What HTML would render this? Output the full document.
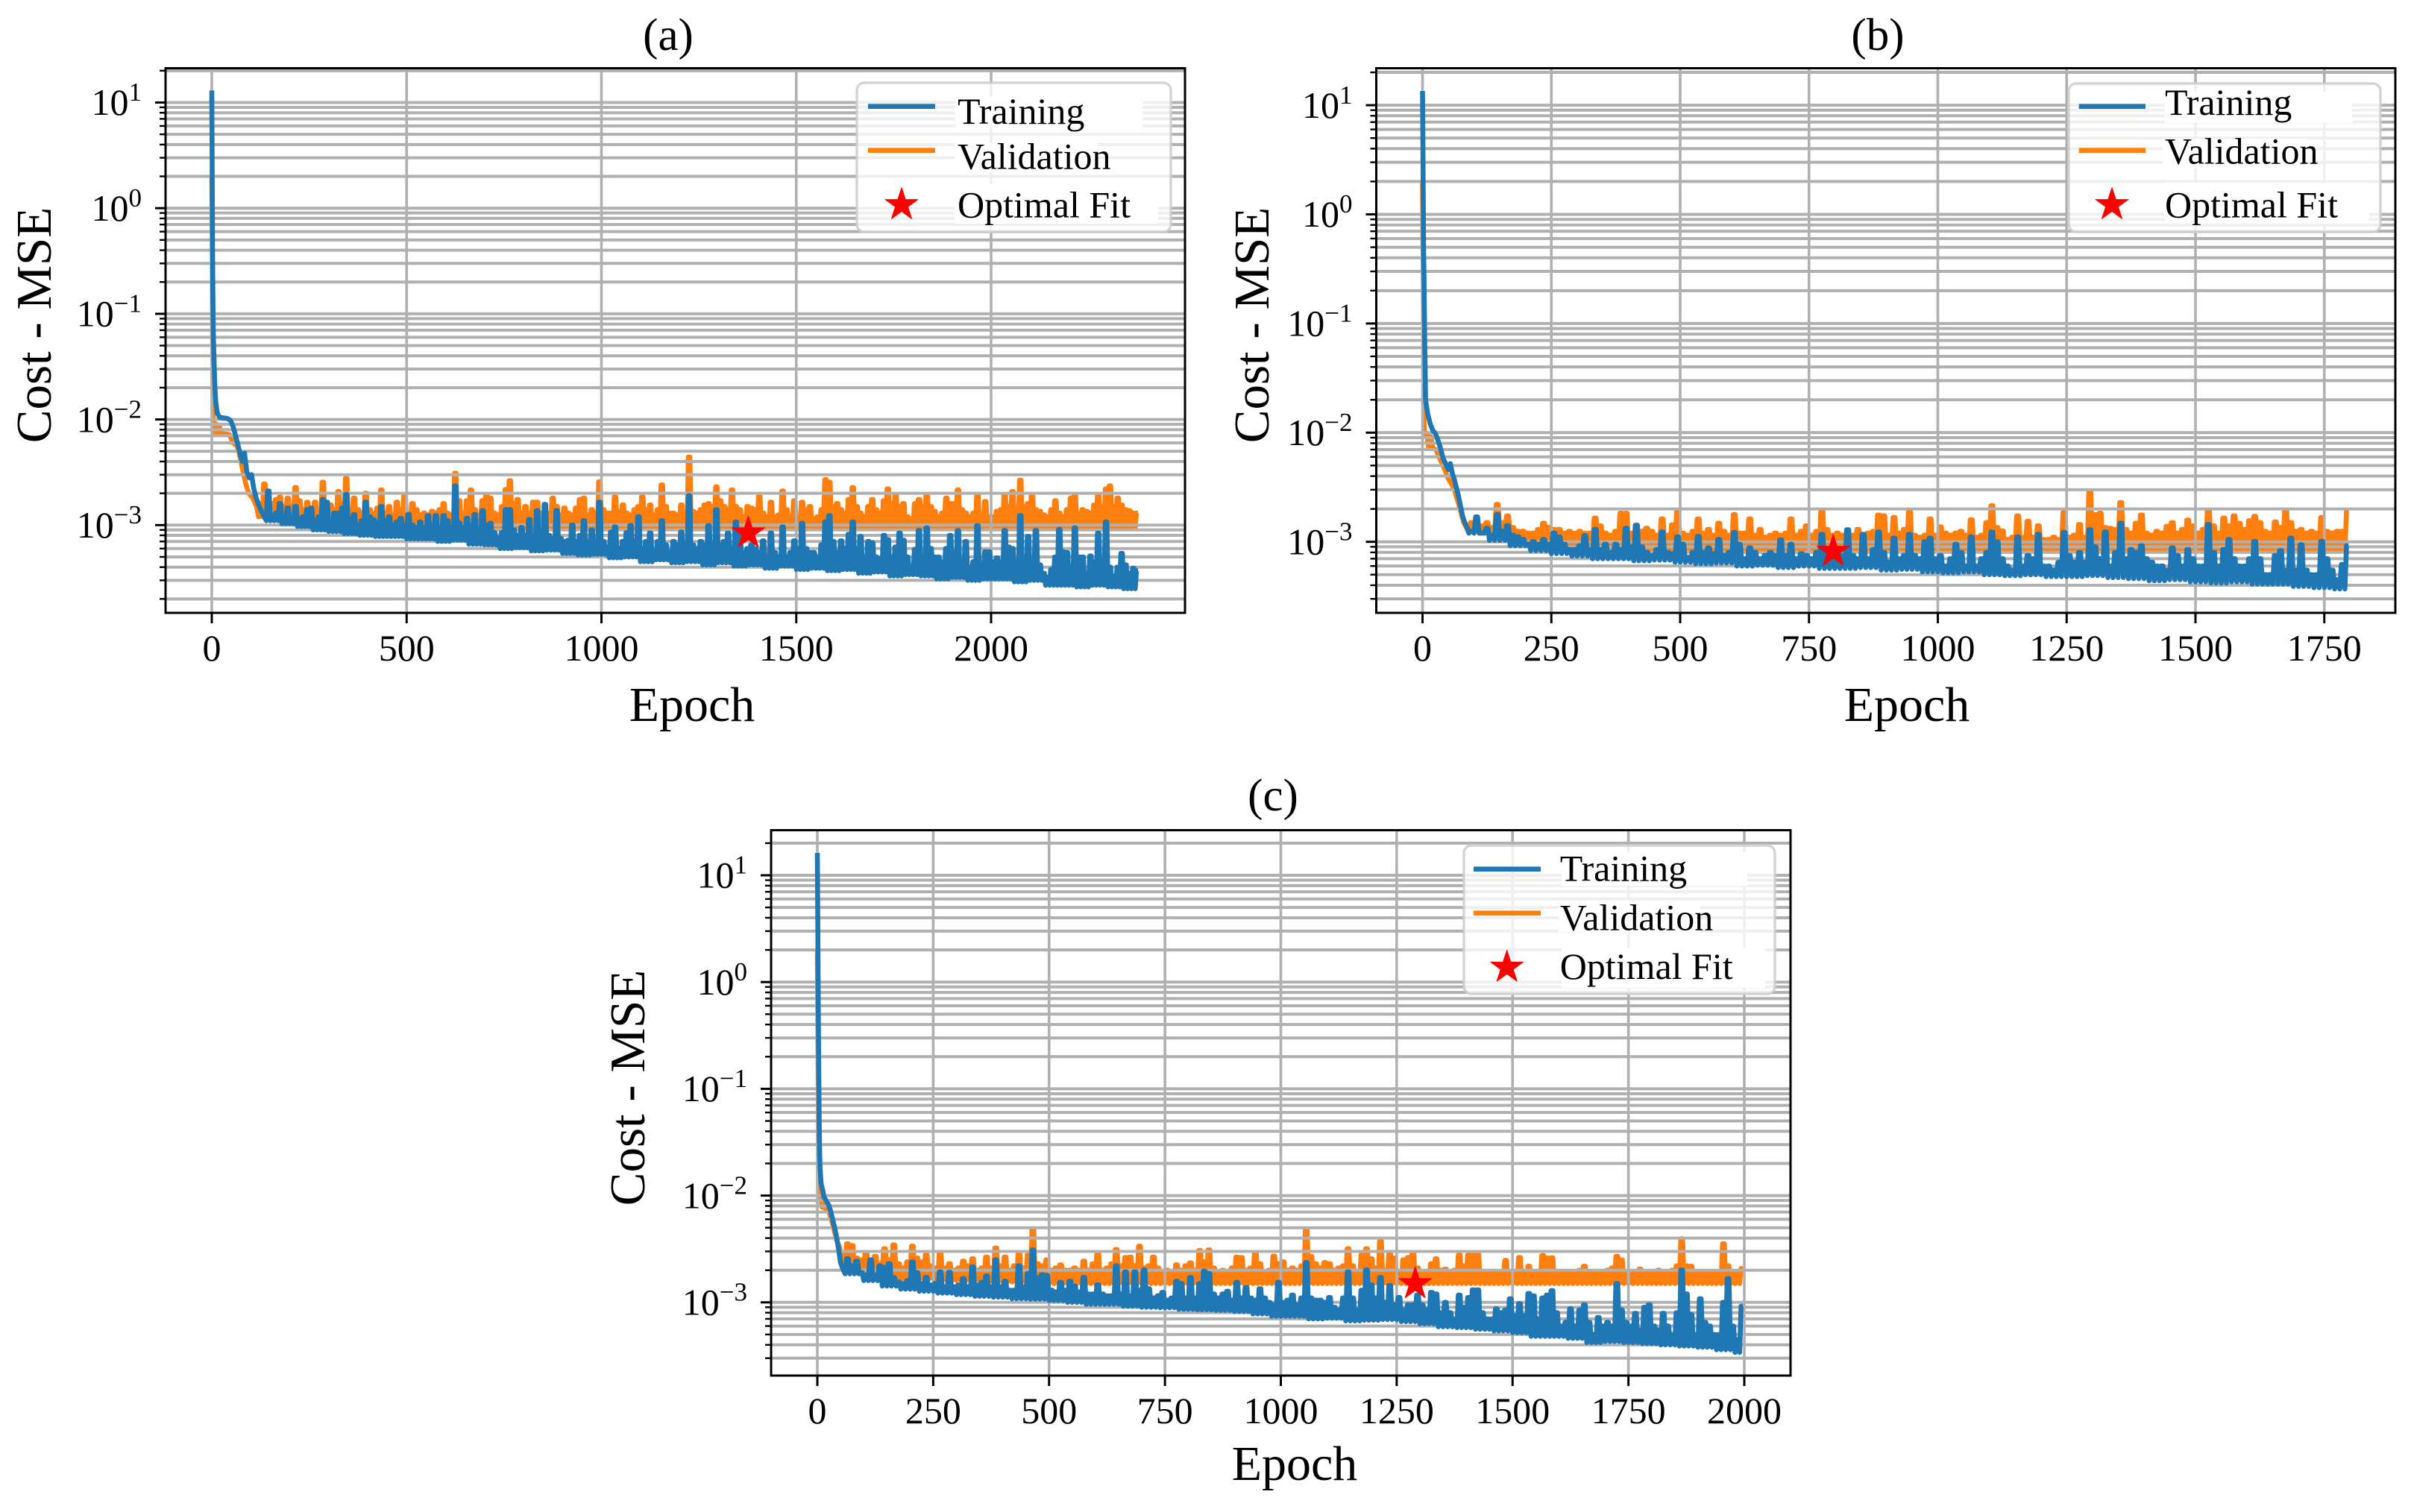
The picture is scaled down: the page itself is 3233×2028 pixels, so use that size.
<!DOCTYPE html>
<html lang="en">
<head>
<meta charset="utf-8">
<title>Training and validation cost curves</title>
<style>
html,body{margin:0;padding:0;background:#fff;}
svg{display:block;font-family:"Liberation Serif","Times New Roman",serif;}
</style>
</head>
<body>
<svg id="figure" xmlns="http://www.w3.org/2000/svg" width="3233" height="2028" viewBox="0 0 3233 2028">
  <rect x="0" y="0" width="3233" height="2028" fill="#fff"/>

  <g id="panel-a">
    <g id="a-val"></g>
    <g id="a-grid"></g>
    <g id="a-train"></g>
    <g id="a-star"></g>
    <g id="a-axes"></g>
    <text x="896" y="67" font-size="61" text-anchor="middle">(a)</text>
    <text x="928" y="967" font-size="66" text-anchor="middle">Epoch</text>
    <text transform="translate(68,436) rotate(-90)" font-size="67" text-anchor="middle">Cost - MSE</text>
    <g>
      <rect x="1149" y="111" width="421" height="200" rx="10" fill="#fff" fill-opacity="0.8" stroke="#ccc" stroke-opacity="0.85" stroke-width="3.4"/>
      <rect x="1281" y="130" width="251" height="41" fill="#fff"/>
      <rect x="1280" y="192" width="192" height="40" fill="#fff"/>
      <rect x="1280" y="247" width="273" height="53" fill="#fff"/>
      <line x1="1164" x2="1254" y1="142.7" y2="142.7" stroke="#1f77b4" stroke-width="6.6"/>
      <line x1="1164" x2="1254" y1="201.7" y2="201.7" stroke="#ff7f0e" stroke-width="6.6"/>
      <polygon transform="translate(1209,274.7)" points="0,-23 5.2,-7.1 21.9,-7.1 8.4,2.7 13.5,18.6 0,8.8 -13.5,18.6 -8.4,2.7 -21.9,-7.1 -5.2,-7.1" fill="#f00" stroke="#f00" stroke-linejoin="round"/>
      <text x="1284" y="166" font-size="50">Training</text>
      <text x="1284" y="226.7" font-size="50">Validation</text>
      <text x="1284" y="291.7" font-size="50">Optimal Fit</text>
    </g>
  </g>

  <g id="panel-b">
    <g id="b-val"></g>
    <g id="b-grid"></g>
    <g id="b-train"></g>
    <g id="b-star"></g>
    <g id="b-axes"></g>
    <text x="2518" y="67" font-size="61" text-anchor="middle">(b)</text>
    <text x="2557" y="967" font-size="66" text-anchor="middle">Epoch</text>
    <text transform="translate(1701,436) rotate(-90)" font-size="67" text-anchor="middle">Cost - MSE</text>
    <g>
      <rect x="2774" y="112" width="418" height="199" rx="10" fill="#fff" fill-opacity="0.8" stroke="#ccc" stroke-opacity="0.85" stroke-width="3.4"/>
      <rect x="2903" y="123" width="251" height="42" fill="#fff"/>
      <rect x="2900" y="186" width="192" height="39" fill="#fff"/>
      <rect x="2903" y="245" width="274" height="55" fill="#fff"/>
      <line x1="2787.7" x2="2877" y1="142.7" y2="142.7" stroke="#1f77b4" stroke-width="6.6"/>
      <line x1="2787.7" x2="2877" y1="201.7" y2="201.7" stroke="#ff7f0e" stroke-width="6.6"/>
      <polygon transform="translate(2832,274.7)" points="0,-23 5.2,-7.1 21.9,-7.1 8.4,2.7 13.5,18.6 0,8.8 -13.5,18.6 -8.4,2.7 -21.9,-7.1 -5.2,-7.1" fill="#f00" stroke="#f00" stroke-linejoin="round"/>
      <text x="2903" y="154" font-size="50">Training</text>
      <text x="2903" y="219.3" font-size="50">Validation</text>
      <text x="2903" y="291.7" font-size="50">Optimal Fit</text>
    </g>
  </g>

  <g id="panel-c">
    <g id="c-val"></g>
    <g id="c-grid"></g>
    <g id="c-train"></g>
    <g id="c-star"></g>
    <g id="c-axes"></g>
    <text x="1707" y="1087" font-size="61" text-anchor="middle">(c)</text>
    <text x="1736" y="1985" font-size="66" text-anchor="middle">Epoch</text>
    <text transform="translate(864,1459) rotate(-90)" font-size="67" text-anchor="middle">Cost - MSE</text>
    <g>
      <rect x="1963" y="1134" width="417" height="199" rx="10" fill="#fff" fill-opacity="0.8" stroke="#ccc" stroke-opacity="0.85" stroke-width="3.4"/>
      <rect x="2094" y="1143" width="249" height="45" fill="#fff"/>
      <rect x="2090" y="1208" width="190" height="42" fill="#fff"/>
      <rect x="2094" y="1272" width="273" height="53" fill="#fff"/>
      <line x1="1976" x2="2066" y1="1165.7" y2="1165.7" stroke="#1f77b4" stroke-width="6.6"/>
      <line x1="1976" x2="2066" y1="1224.7" y2="1224.7" stroke="#ff7f0e" stroke-width="6.6"/>
      <polygon transform="translate(2020.7,1297.5)" points="0,-23 5.2,-7.1 21.9,-7.1 8.4,2.7 13.5,18.6 0,8.8 -13.5,18.6 -8.4,2.7 -21.9,-7.1 -5.2,-7.1" fill="#f00" stroke="#f00" stroke-linejoin="round"/>
      <text x="2091.7" y="1181.7" font-size="50">Training</text>
      <text x="2091.7" y="1247.7" font-size="50">Validation</text>
      <text x="2091.7" y="1313" font-size="50">Optimal Fit</text>
    </g>
  </g>
</svg>

<script>
// ---------- tick values ----------
const xTicksA = [0,500,1000,1500,2000];
const xTicksB = [0,250,500,750,1000,1250,1500,1750];
const xTicksC = [0,250,500,750,1000,1250,1500,1750,2000];
const yTickExponents = [1,0,-1,-2,-3];

// ---------- optimal-fit markers ----------
const optimalEpochs = [1377,797,1290];
const optimalCosts = [8.4e-4,8.15e-4,1.49e-3];

// ---------- panel (a): early epochs (epoch / cost) ----------
const trainHeadEpochsA = [0,1,2,3,4,6,8,10,14,20,40,48,55,62,70,78,84,90,96,102,108,114,122,130];
const trainHeadCostsA = [13,2.5,0.4,0.12,0.06,0.035,0.02,0.015,0.0115,0.0105,0.0102,0.0098,0.0085,0.0068,0.0052,0.004,0.0048,0.0032,0.0028,0.003,0.0022,0.0018,0.0015,0.0013];
const valHeadEpochsA = [0,1,2,3,4,5,8,12,15,20,25,35,45,55,65,70,75,82,88,95,105,115];
const valHeadCostsA = [2,0.6,0.1,0.012,0.0095,0.0095,0.0073,0.009,0.0073,0.0085,0.0073,0.0073,0.0072,0.006,0.0056,0.0048,0.004,0.003,0.0024,0.002,0.0018,0.0015];
const trainTailStartA = 140;
const valTailStartA = 120;
// panel (a): per-10-epoch upper values, in units of 1e-3
const trainTopsA = [2.1,1.2,1.3,1.6,1.2,1.45,1.15,1.5,1.15,1.2,1.4,
1.45,1.1,1.2,1.75,1.65,1.1,1.3,1.3,1.45,1.95,
1.15,1.26,1.0,1.1,1.65,1.2,1.13,1.05,1.5,1.1,
1.2,1.0,1.07,1.16,1.0,1.26,1.0,.95,1.07,.95,
1.23,1.0,1.23,.95,1.23,1.1,.95,2.35,1.05,.95,
1.16,1.0,1.26,.9,1.37,1.0,1.04,.85,.75,.85,
1.4,1.4,.9,.8,.95,.8,1.13,.8,1.37,.72,
1.57,.8,.75,1.37,.75,.7,.72,1.0,.7,.8,
1.1,.7,.9,.65,1.65,.7,.62,.86,.96,.6,
.7,.85,.99,.7,1.2,.6,.7,.84,.55,.7,
1.1,.65,.55,.7,.65,.86,.6,1.9,.65,.6,
.7,.65,.99,.6,1.4,.65,.7,.84,.6,1.07,
.8,.55,.6,.65,.6,.55,.71,.5,.84,.55,
.5,.96,.5,.55,.71,.6,1.04,.6,.55,.55,
.5,.65,1.07,1.23,.7,.55,.71,.6,.82,1.07,
.6,.78,.5,.7,.68,.5,.48,.8,.73,.5,
.62,.84,.72,.5,.4,.59,.89,.45,.94,.6,
.5,.5,.45,.6,.8,.55,.89,.45,.7,.4,
.45,.99,.4,.56,.56,.45,.49,.45,.89,.62,
.6,.45,1.23,.5,.78,.4,.89,.42,.35,.32,
.38,.5,.91,.56,.55,.4,.94,.5,.5,.35,
.51,.45,.84,.45,1.07,.4,.33,.4,.54,.42,
.35,.39,.37];
// panel (a): lower envelope, one reading per 40 epochs, units of 1e-3
const trainBaseA = [1.1,1.03,.97,.9,.87,.83,.8,.78,.78,.74,.74,.7,.72,.66,.65,.6,.61,.57,.58,.54,.52,.53,.49,.5,.45,.47,.44,.45,.42,.44,.41,.42,.39,.41,.38,.39,.37,.38,.35,.36,.33,.34,.33,.31,.32,.3,.31,.31,.29,.3,.27,.27,.26,.27,.26,.25];
const valTopsA = [1.6,2.45,1.7,1.6,1.75,1.84,1.5,1.8,1.5,2.27,1.7,1.4,1.65,1.4,1.65,1.4,2.55,1.4,1.55,1.4,2.08,1.6,2.77,1.4,1.8,1.4,1.3,2.0,1.4,1.3,1.45,2.15,1.3,1.5,1.25,1.65,1.4,1.95,1.25,1.6,1.4,1.25,1.3,1.25,1.35,1.3,1.4,1.6,1.3,1.25,3.1,1.7,1.3,1.7,2.15,1.4,1.25,1.7,1.93,1.8,1.3,1.25,1.5,2.17,2.63,1.6,1.75,1.3,1.5,1.3,1.65,1.65,1.3,1.25,1.3,1.8,1.5,1.25,1.45,1.3,1.25,1.45,1.75,1.8,1.25,1.4,1.3,2.58,1.4,1.3,1.3,1.85,1.35,1.55,1.3,1.25,1.4,1.5,1.85,1.4,1.55,1.25,1.4,2.4,1.5,1.3,1.3,1.25,1.55,1.3,4.4,1.35,1.3,1.4,1.55,1.6,1.5,2.3,1.7,1.5,1.4,2.15,1.5,1.4,1.2,1.5,1.45,1.4,1.87,1.3,1.2,1.65,1.2,1.25,2.1,1.4,1.2,1.7,1.2,1.65,1.4,1.5,1.15,1.2,1.4,2.7,2.55,1.5,1.6,1.4,1.3,1.75,2.27,1.5,1.3,1.2,1.5,1.75,1.4,1.3,1.7,2.2,1.6,1.9,1.5,1.6,1.2,1.15,1.6,1.75,1.5,1.93,1.5,1.35,1.2,1.3,1.8,1.6,1.6,2.15,1.4,1.3,1.2,1.3,1.93,1.25,1.67,1.2,1.2,1.35,1.4,1.93,1.5,2.08,1.4,2.66,1.5,1.6,1.93,1.4,1.35,1.25,1.2,1.4,1.7,1.3,1.2,1.4,1.8,1.93,1.3,1.4,1.35,1.3,1.55,1.93,1.5,2.2,2.35,1.5,1.8,1.55,1.4,1.37,1.3,1.3];
const valFloorA = [1.2,1.1,1.05,1.0,.98,.95,.95,.95,.95,.95,.95,.95,.95,.95,.95,.95,.95,.95,.95,.95,.95,.95,.95];

// ---------- panel (b) ----------
const trainHeadEpochsB = [0,1,2,3,4,5,6,10,15,20,25,30,35,40,45,50,54,58,62,66,70,74,78,82,88];
const trainHeadCostsB = [13.5,3,0.5,0.25,0.08,0.04,0.02,0.015,0.012,0.0105,0.0098,0.0085,0.0072,0.0058,0.0052,0.0046,0.0052,0.0042,0.0037,0.0031,0.0026,0.0021,0.0017,0.0015,0.0013];
const valHeadEpochsB = [0,1,2,3,4,6,8,12,16,20,26,32,38,44,50,56,62,68,74,80,85];
const valHeadCostsB = [2,0.5,0.1,0.012,0.0095,0.0095,0.0099,0.0072,0.0092,0.0072,0.007,0.006,0.0052,0.0045,0.0038,0.0034,0.003,0.0024,0.0019,0.0015,0.00135];
const trainTailStartB = 90;
const valTailStartB = 90;
const trainTopsB = [1.25,1.69,1.2,1.33,1.15,1.78,1.25,1.41,1.15,1.11,1.05,.95,1.0,.95,1.05,.95,1.2,1.11,.95,.85,.85,.92,1.14,.85,1.3,.85,.95,.8,.95,.85,1.33,.9,1.41,.9,.8,.75,.85,1.23,.8,.78,1.11,.95,.72,.8,1.12,.8,.88,.78,1.05,.75,.8,1.22,.95,.7,.88,.8,.7,.75,.8,.75,1.04,.75,.95,.7,.78,.75,.7,.8,1.17,.75,.85,.7,.75,1.29,.75,.7,1.17,.7,.85,1.23,.8,.65,1.08,.7,.75,1.17,.75,.7,1.0,1.08,.7,.75,.6,.7,.95,.8,.6,1.11,.6,.7,.8,1.23,1.0,.7,.6,.55,1.11,.6,.75,.7,1.17,.6,.6,.55,.65,1.22,.75,.65,.8,.65,1.29,.9,.7,1.23,.6,.8,1.48,.7,.85,.8,.92,.7,.65,.6,.6,.55,.88,.75,.6,.85,.7,.6,.6,1.44,.8,.6,.85,1.05,.7,.6,.6,.7,1.01,.7,.5,.5,.75,.83,.55,1.08,.55,.94,.55,.5,.5,1.01,.7,.55,.45,.62,.92];
const trainBaseB = [1.2,1.03,.92,.83,.78,.74,.7,.7,.67,.68,.65,.63,.64,.6,.61,.58,.6,.57,.57,.58,.55,.56,.53,.52,.53,.5,.49,.5,.48,.48,.49,.47,.46,.44,.45,.43,.42,.43,.41,.41,.39,.38,.37];
const valTopsB = [1.5,1.45,1.4,1.5,1.35,2.2,1.5,1.73,1.35,1.25,1.25,1.2,1.2,1.3,1.48,1.35,1.3,1.3,1.2,1.25,1.2,1.25,1.2,1.2,1.65,1.4,1.2,1.15,1.25,1.83,1.83,1.2,1.43,1.25,1.33,1.25,1.15,1.62,1.15,1.43,1.88,1.2,1.15,1.25,1.62,1.2,1.3,1.15,1.48,1.25,1.15,1.78,1.2,1.2,1.62,1.15,1.3,1.1,1.15,1.2,1.15,1.2,1.62,1.15,1.25,1.4,1.15,1.25,1.9,1.3,1.15,1.2,1.15,1.2,1.15,1.3,1.15,1.2,1.25,1.76,1.73,1.15,1.67,1.2,1.3,1.88,1.15,1.1,1.15,1.62,1.15,1.37,1.2,1.15,1.2,1.25,1.15,1.59,1.1,1.15,1.5,2.14,1.35,1.26,1.05,1.1,1.73,1.1,1.54,1.1,1.4,1.05,1.05,1.1,1.05,1.86,1.1,1.15,1.44,1.1,2.86,1.78,1.83,1.35,1.33,1.3,2.29,1.3,1.2,1.48,1.76,1.2,1.15,1.25,1.2,1.39,1.5,1.2,1.3,1.58,1.4,1.2,1.3,1.93,1.4,1.2,1.65,1.4,1.73,1.48,1.3,1.56,1.71,1.5,1.25,1.2,1.52,1.35,1.93,1.5,1.25,1.3,1.2,1.25,1.2,1.67,1.25,1.2,1.25,1.25,1.93];
const valFloorB = [1.2,.95,.85,.83,.83,.83,.83,.83,.83,.83,.83,.83,.83,.83,.83,.83,.83,.83];

// ---------- panel (c) ----------
const trainHeadEpochsC = [0,1,2,3,4,5,6,8,12,14,20,25,30,36,41,47,50,54];
const trainHeadCostsC = [16.2,4,0.7,0.15,0.05,0.025,0.018,0.013,0.011,0.0098,0.0088,0.0081,0.0068,0.0053,0.0042,0.00293,0.00236,0.0021];
const valHeadEpochsC = [0,1,2,3,5,8,10,14,18,22,26,30,36,42,48];
const valHeadCostsC = [2,0.5,0.1,0.012,0.0095,0.0095,0.0078,0.0095,0.0072,0.0078,0.0068,0.006,0.0048,0.0038,0.0033];
const trainTailStartC = 60;
const valTailStartC = 60;
const trainTopsC = [2.56,2.2,2.43,1.9,1.8,2.5,1.8,2.2,2.13,2.3,1.7,1.55,1.5,1.6,2.39,1.9,1.5,1.71,1.45,1.5,1.93,1.4,1.91,1.4,1.45,1.67,1.4,2.15,1.45,1.54,1.76,1.4,2.5,1.4,1.58,1.3,1.3,2.2,1.4,1.86,3.1,1.7,1.81,1.79,1.3,1.25,1.54,1.3,1.58,1.42,1.25,1.71,1.2,1.2,1.46,1.2,1.15,1.15,2.2,1.2,1.93,1.15,1.93,1.3,2.01,1.34,1.1,1.15,1.24,1.05,1.1,1.58,1.5,1.1,1.71,1.1,1.5,1.96,1.86,1.2,1.1,1.2,1.27,1.05,1.54,1.1,1.38,1.1,1.05,1.34,1.1,1.0,.95,1.54,1.0,1.05,1.17,.95,1.1,2.36,1.1,1.05,1.05,1.0,1.11,.9,.85,1.1,1.93,1.1,.85,1.3,2.01,1.46,1.1,1.71,1.0,1.44,.95,1.11,.85,.95,.95,1.17,.95,.85,1.24,1.2,.8,1.0,.8,.7,1.17,.9,1.11,1.31,1.31,.8,.7,.7,.87,.8,.85,1.08,.75,.97,.75,1.21,1.15,.7,1.1,1.17,1.29,.8,.6,.65,.87,.6,.85,.95,.65,.5,.72,.6,.65,.6,1.5,.85,.65,.6,.79,.55,.9,.95,.6,.55,.79,.6,.5,.8,2.01,1.2,.77,.5,1.08,.65,.6,.5,.5,1.0,1.67,.6,.45,.92];
const trainBaseC = [1.85,1.6,1.42,1.33,1.27,1.22,1.18,1.14,1.12,1.08,1.07,1.04,1.0,.96,.96,.92,.9,.89,.86,.85,.84,.82,.78,.74,.74,.7,.71,.67,.68,.69,.66,.63,.59,.58,.56,.54,.52,.48,.48,.46,.42,.43,.42,.41,.4,.39,.38,.36,.34];
const valTopsC = [3.54,3.4,2.6,2.5,2.93,2.4,2.7,2.3,3.18,2.5,3.45,2.3,2.1,2.4,3.36,2.6,2.4,2.78,2.2,2.1,2.93,2.1,2.3,2.0,2.1,2.43,2.2,2.56,2.0,2.1,2.66,2.1,3.23,2.2,2.66,2.0,2.2,2.86,2.1,2.78,4.9,2.3,2.2,2.5,2.0,2.1,2.24,2.0,2.0,2.1,2.0,2.43,2.0,2.3,2.93,2.0,2.1,2.3,3.13,2.2,2.63,2.66,2.2,3.36,2.1,2.2,2.66,2.1,1.95,2.0,1.95,2.24,2.0,2.2,2.34,2.0,3.06,2.4,3.1,2.1,1.95,2.0,1.95,2.1,2.66,2.63,2.0,2.1,2.93,2.3,1.95,2.0,2.71,2.3,2.4,2.0,2.1,2.0,2.2,4.9,2.7,2.3,2.1,2.36,2.3,2.0,2.1,2.2,3.18,2.2,1.95,2.78,3.18,2.56,2.1,3.74,2.0,2.86,2.6,1.95,2.5,2.63,2.93,2.1,1.95,1.95,2.3,2.56,2.0,2.05,1.9,2.0,2.78,2.2,2.78,2.86,2.86,1.95,1.85,1.9,1.85,1.9,2.47,1.9,1.85,2.63,1.95,2.18,1.9,1.95,2.75,2.6,2.61,1.95,1.9,1.85,1.95,1.9,2.0,2.18,1.9,1.85,1.9,1.95,2.0,2.1,2.7,2.5,1.9,1.85,1.9,2.05,1.95,1.9,1.9,2.0,1.9,1.85,2.0,2.2,3.94,2.2,2.18,1.9,1.95,1.9,1.95,1.85,1.9,3.54,2.2,1.85,1.9,2.07];
const valFloorC = [1.95,1.65,1.6,1.55,1.5,1.5,1.5,1.5,1.5,1.5,1.5,1.5,1.5,1.5,1.5,1.5,1.5,1.5,1.5,1.5];

const TAIL_STEP = 10;
const TRAIN_BASE_BLOCK = 40;
const VAL_FLOOR_BLOCK = 100;
const SVG_NS = 'http://www.w3.org/2000/svg';
const GRID_COLOR = '#b0b0b0';
const STAR_POINTS = '0,-23 5.2,-7.1 21.9,-7.1 8.4,2.7 13.5,18.6 0,8.8 -13.5,18.6 -8.4,2.7 -21.9,-7.1 -5.2,-7.1';

function svgEl(tag, attrs, parent) {
  const el = document.createElementNS(SVG_NS, tag);
  for (const k in attrs) el.setAttribute(k, attrs[k]);
  parent.appendChild(el);
  return el;
}

// Build [epoch, cost] pairs: early epochs, then alternating floor/top readings.
function seriesPoints(headEpochs, headCosts, tailStart, tops, floors, blockEpochs) {
  const pts = headEpochs.map((e, i) => [e, headCosts[i]]);
  tops.forEach((top, i) => {
    const epoch = tailStart + i * TAIL_STEP;
    const block = Math.min(floors.length - 1, Math.floor(i * TAIL_STEP / blockEpochs));
    pts.push([epoch, floors[block] * 1e-3]);
    pts.push([epoch + 3, top * 1e-3]);
    pts.push([epoch + 7, top * 1e-3]);
  });
  return pts;
}

function drawPanel(id, g, series, xTicks, starIndex) {
  const xScale = e => g.x0 + g.pxPerEpoch * e;
  const yScale = v => g.yTen + (1 - Math.log10(v)) * g.decade;
  const gridG = document.getElementById(id + '-grid');
  const axesG = document.getElementById(id + '-axes');
  const valG = document.getElementById(id + '-val');
  const trainG = document.getElementById(id + '-train');
  const starG = document.getElementById(id + '-star');
  const toPath = pts => pts.map(p => xScale(p[0]).toFixed(1) + ',' + yScale(p[1]).toFixed(1)).join(' ');

  const valLine = svgEl('polyline', {points: toPath(series.val), fill: 'none', stroke: '#ff7f0e', 'stroke-width': 6.6, 'stroke-linejoin': 'round'}, valG);
  
  

  // horizontal grid and y ticks
  for (let d = -4; d <= 1; d++) {
    for (let m = 1; m <= 9; m++) {
      const y = yScale(m * Math.pow(10, d));
      if (y < g.top || y > g.bottom) continue;
      const gl = svgEl('line', {x1: g.left, x2: g.right, y1: y, y2: y, stroke: GRID_COLOR, 'stroke-width': 4}, gridG);
      
      
      const len = m === 1 ? 14 : 8;
      const tk = svgEl('line', {x1: g.left - len, x2: g.left, y1: y, y2: y, stroke: '#000', 'stroke-width': m === 1 ? 3 : 2.4}, axesG);
      
      
    }
  }
  yTickExponents.forEach(exp => {
    const y = yScale(Math.pow(10, exp));
    const t = svgEl('text', {x: g.left - 32, y: y + 16.7, 'font-size': 50, 'text-anchor': 'end'}, axesG);
    
    
    t.appendChild(document.createTextNode('10'));
    const sup = svgEl('tspan', {dy: -19, 'font-size': 35}, t);
    sup.textContent = String(exp).replace('-', '\u2212');
  });

  // vertical grid and x ticks
  xTicks.forEach(v => {
    const x = xScale(v);
    const gl = svgEl('line', {x1: x, x2: x, y1: g.top, y2: g.bottom, stroke: GRID_COLOR, 'stroke-width': 3.6}, gridG);
    
    
    const tk = svgEl('line', {x1: x, x2: x, y1: g.bottom, y2: g.bottom + 14, stroke: '#000', 'stroke-width': 3}, axesG);
    
    
    const t = svgEl('text', {x: x, y: g.bottom + 64, 'font-size': 50, 'text-anchor': 'middle'}, axesG);
    
    
    t.textContent = String(v);
  });

  const trainLine = svgEl('polyline', {points: toPath(series.train), fill: 'none', stroke: '#1f77b4', 'stroke-width': 6.6, 'stroke-linejoin': 'round'}, trainG);
  
  

  const star = svgEl('polygon', {
    points: STAR_POINTS,
    transform: 'translate(' + xScale(optimalEpochs[starIndex]) + ',' + yScale(optimalCosts[starIndex]) + ')',
    fill: '#f00', stroke: '#f00', 'stroke-linejoin': 'round'
  }, starG);
  
  

  const frame = svgEl('rect', {x: g.left, y: g.top, width: g.right - g.left, height: g.bottom - g.top, fill: 'none', stroke: '#000', 'stroke-width': 3}, axesG);
  
  
}

drawPanel('a',
  {left: 222, right: 1589, top: 91.5, bottom: 822, x0: 284, pxPerEpoch: 0.5225, yTen: 137.5, decade: 141.7},
  {train: seriesPoints(trainHeadEpochsA, trainHeadCostsA, trainTailStartA, trainTopsA, trainBaseA, TRAIN_BASE_BLOCK),
   val: seriesPoints(valHeadEpochsA, valHeadCostsA, valTailStartA, valTopsA, valFloorA, VAL_FLOOR_BLOCK)},
  xTicksA, 0);
drawPanel('b',
  {left: 1845.5, right: 3212, top: 91.5, bottom: 822, x0: 1907.5, pxPerEpoch: 0.691, yTen: 141.1, decade: 146.4},
  {train: seriesPoints(trainHeadEpochsB, trainHeadCostsB, trainTailStartB, trainTopsB, trainBaseB, TRAIN_BASE_BLOCK),
   val: seriesPoints(valHeadEpochsB, valHeadCostsB, valTailStartB, valTopsB, valFloorB, VAL_FLOOR_BLOCK)},
  xTicksB, 1);
drawPanel('c',
  {left: 1034, right: 2401, top: 1113.5, bottom: 1845, x0: 1096, pxPerEpoch: 0.6215, yTen: 1174, decade: 143.2},
  {train: seriesPoints(trainHeadEpochsC, trainHeadCostsC, trainTailStartC, trainTopsC, trainBaseC, TRAIN_BASE_BLOCK),
   val: seriesPoints(valHeadEpochsC, valHeadCostsC, valTailStartC, valTopsC, valFloorC, VAL_FLOOR_BLOCK)},
  xTicksC, 2);
</script>
</body>
</html>
